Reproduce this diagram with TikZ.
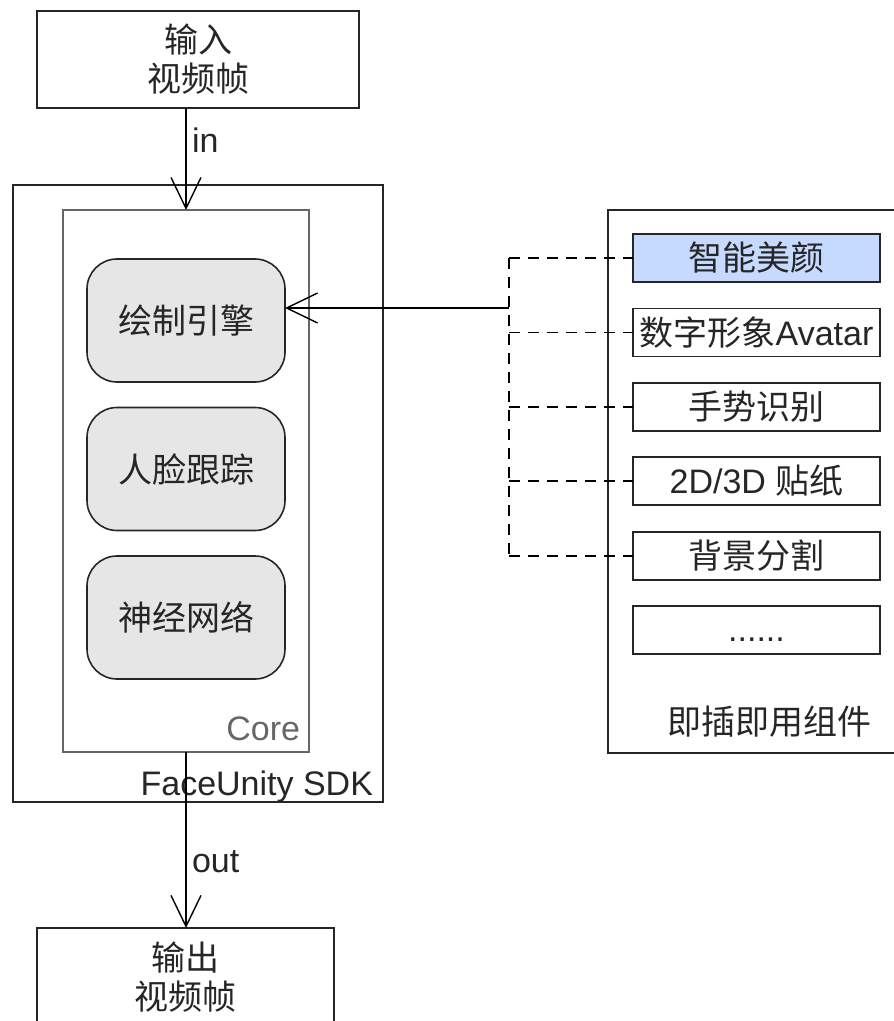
\documentclass[tikz,border=0pt]{standalone}
\usepackage{fontspec}
\setmainfont{Liberation Sans}
\newfontfamily\cjk{Noto Sans CJK SC}
\usetikzlibrary{arrows.meta}
\definecolor{coregray}{RGB}{102,102,102}
\definecolor{modfill}{RGB}{230,230,230}
\definecolor{beautyblue}{RGB}{198,217,254}
\begin{document}
\begin{tikzpicture}[x=0.5pt,y=-0.5pt,
  every node/.style={font=\fontsize{17}{19.5}\selectfont,inner sep=0pt,outer sep=0pt,text=black!85},
  cjktext/.style={font=\fontsize{17}{19.5}\selectfont\cjk},
  frame/.style={draw=black!85,line width=0.8pt},
  module/.style={frame,cjktext,fill=modfill,rounded corners=15pt,minimum width=99pt,minimum height=61.5pt},
  plugin/.style={frame,minimum width=123.5pt,minimum height=24pt},
  flow/.style={line width=0.7pt,-{Straight Barb[length=15.5pt,width=15pt,line width=0.7pt]}},
  dashlink/.style={line width=0.7pt,dash pattern=on 5.5pt off 4pt}]
\useasboundingbox (0,0) rectangle (893,1021);
% frames in and out
\node [frame,cjktext,align=center,minimum width=161pt,minimum height=48.5pt] (inframe) at (198,59.5) {输入\\视频帧};
\node [frame,cjktext,align=center,minimum width=148.5pt,minimum height=49pt] (outframe) at (185.5,977) {输出\\视频帧};
% sdk and core
\node [frame,minimum width=185pt,minimum height=308.5pt] (sdk) at (198,493.5) {};
\node [frame,draw=coregray,minimum width=123pt,minimum height=271pt] (core) at (186,481) {};
\node [module] (render) at (186,320.5) {绘制引擎};
\node [module] (track) at (186,469) {人脸跟踪};
\node [module] (nnet) at (186,617.5) {神经网络};
\node [anchor=base east,text=coregray] (corelabel) at ([xshift=-4.5pt,yshift=6pt]core.south east) {Core};
\node [anchor=base east] (sdklabel) at ([xshift=-5pt,yshift=3.5pt]sdk.south east) {FaceUnity SDK};
% plug-in components
\node [frame,minimum width=148.5pt,minimum height=271.5pt] (panel) at (756.5,481.5) {};
\node [plugin,cjktext,fill=beautyblue] (beauty) at (756.5,258) {智能美颜};
\node [plugin] (avatar) at (756.5,332.5) {{\cjk 数字形象}Avatar};
\node [plugin,cjktext] (gesture) at (756.5,407) {手势识别};
\node [plugin] (sticker) at (756.5,481) {2D/3D {\cjk 贴纸}};
\node [plugin,cjktext] (bgseg) at (756.5,556) {背景分割};
\node [plugin] (more) at (756.5,630) {\vphantom{D}......};
\node [cjktext] (panellabel) at (769,722) {即插即用组件};
% connectors
\draw [flow] (inframe.south -| core.north) -- node [pos=0.32,right=3pt] (inlabel) {in} (core.north);
\draw [flow] (core.south) -- node [pos=0.625,right=3pt] (outlabel) {out} (core.south |- outframe.north);
\coordinate (hub) at (509,308);
\draw [flow] (hub) -- (hub -| render.east);
\draw [dashlink] (beauty.west -| hub) -- (bgseg.west -| hub);
\foreach \item in {beauty,avatar,gesture,sticker,bgseg}
  \draw [dashlink] (\item.west -| hub) -- (\item.west);
\end{tikzpicture}
\end{document}
